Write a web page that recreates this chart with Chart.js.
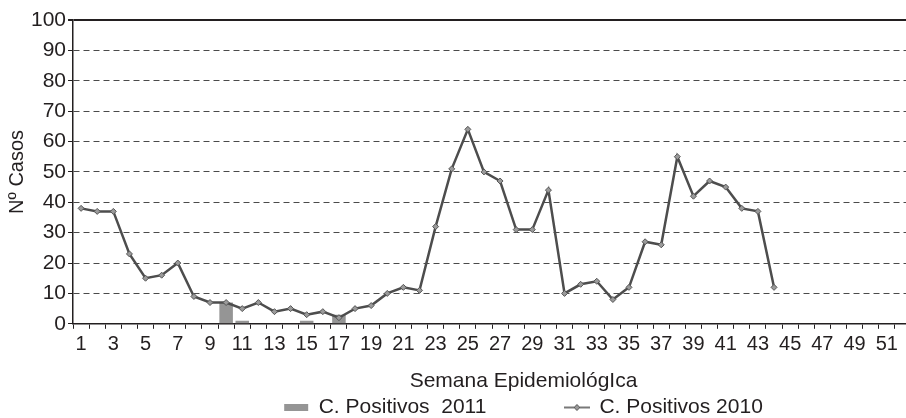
<!DOCTYPE html>
<html>
<head>
<meta charset="utf-8">
<script src="https://cdn.jsdelivr.net/npm/chart.js@4/dist/chart.umd.min.js"></script>
<style>
  html, body { margin: 0; padding: 0; background: #fff; overflow: hidden; }
  #wrap { width: 1044px; height: 418px; }
</style>
</head>
<body>
<div id="wrap"><canvas id="chart" width="1044" height="418"></canvas></div>
<script>
const WEEKS = [1, 2, 3, 4, 5, 6, 7, 8, 9, 10, 11, 12, 13, 14, 15, 16, 17, 18, 19, 20,
  21, 22, 23, 24, 25, 26, 27, 28, 29, 30, 31, 32, 33, 34, 35, 36, 37, 38, 39, 40,
  41, 42, 43, 44, 45, 46, 47, 48, 49, 50, 51, 52];

const POSITIVOS_2010 = [38, 37, 37, 23, 15, 16, 20, 9, 7, 7, 5, 7, 4, 5, 3, 4, 2, 5, 6, 10,
  12, 11, 32, 51, 64, 50, 47, 31, 31, 44, 10, 13, 14, 8, 12, 27, 26, 55, 42, 47,
  45, 38, 37, 12, null, null, null, null, null, null, null, null];

const POSITIVOS_2011 = [null, null, null, null, null, null, null, null, null, 7, 1, null, null, null, 1, null, 3, null, null, null,
  null, null, null, null, null, null, null, null, null, null, null, null, null, null, null, null, null, null, null, null,
  null, null, null, null, null, null, null, null, null, null, null, null];

const Y_TICKS = [0, 10, 20, 30, 40, 50, 60, 70, 80, 90, 100];

const TEXT = "#231f20";
const FONT = "'Liberation Sans', Arial, sans-serif";

// little line + diamond icon for the 2010 legend entry
const lineIcon = (() => {
  const c = document.createElement("canvas");
  c.width = 26;
  c.height = 10;
  const g = c.getContext("2d");
  g.strokeStyle = "#4d4d4d";
  g.lineWidth = 1.5;
  g.beginPath();
  g.moveTo(0, 5);
  g.lineTo(26, 5);
  g.stroke();
  g.fillStyle = "#9a9a9a";
  g.strokeStyle = "#555";
  g.lineWidth = 1;
  g.beginPath();
  g.moveTo(13, 2);
  g.lineTo(16, 5);
  g.lineTo(13, 8);
  g.lineTo(10, 5);
  g.closePath();
  g.fill();
  g.stroke();
  return c;
})();

new Chart(document.getElementById("chart"), {
  type: "bar",
  data: {
    labels: WEEKS,
    datasets: [
      {
        label: "C. Positivos  2011",
        data: POSITIVOS_2011,
        backgroundColor: "#959595",
        borderWidth: 0,
        categoryPercentage: 1,
        barPercentage: 0.84,
        order: 2
      },
      {
        type: "line",
        label: "C. Positivos 2010",
        data: POSITIVOS_2010,
        borderColor: "#4d4d4d",
        borderWidth: 2.5,
        backgroundColor: "#9a9a9a",
        pointStyle: "rectRot",
        pointRadius: 3,
        pointBorderColor: "#555",
        pointBorderWidth: 1,
        pointBackgroundColor: "#9a9a9a",
        tension: 0,
        spanGaps: false,
        order: 1
      }
    ]
  },
  options: {
    responsive: false,
    animation: false,
    layout: { padding: { left: 3, right: 0, top: 20, bottom: -10 } },
    plugins: {
      tooltip: { enabled: false },
      title: {
        display: true,
        position: "bottom",
        text: "Semana EpidemiológIca",
        color: TEXT,
        font: { family: FONT, size: 21, weight: "normal" },
        padding: { top: 8, bottom: -19 },
        weight: 500
      },
      legend: {
        position: "bottom",
        labels: {
          color: TEXT,
          font: { family: FONT, size: 21 },
          usePointStyle: true,
          pointStyleWidth: 24,
          boxHeight: 7,
          padding: 22,
          generateLabels: (chart) => {
            const base = Chart.defaults.plugins.legend.labels.generateLabels(chart);
            const bar = base.find((it) => it.datasetIndex === 0);
            const line = base.find((it) => it.datasetIndex === 1);
            bar.pointStyle = "rect";
            bar.fillStyle = "#959595";
            bar.strokeStyle = "#959595";
            bar.lineWidth = 0;
            line.pointStyle = lineIcon;
            // empty entry only to open the gap between the two items
            const spacer = {
              text: "",
              fillStyle: "rgba(0,0,0,0)",
              strokeStyle: "rgba(0,0,0,0)",
              lineWidth: 0,
              pointStyle: "rect",
              hidden: false,
              datasetIndex: -1
            };
            return [bar, spacer, line];
          }
        }
      }
    },
    scales: {
      x: {
        offset: true,
        grid: {
          offset: true,
          drawOnChartArea: false,
          drawTicks: true,
          tickLength: 5,
          tickColor: TEXT,
          tickWidth: 1
        },
        border: { color: TEXT, width: 1.5 },
        ticks: {
          autoSkip: false,
          maxRotation: 0,
          padding: 4,
          color: TEXT,
          font: { family: FONT, size: 20 },
          callback: (v, i) => (WEEKS[i] % 2 === 1 ? String(WEEKS[i]) : "")
        }
      },
      y: {
        min: 0,
        max: 100,
        afterBuildTicks: (axis) => {
          axis.ticks = Y_TICKS.map((v) => ({ value: v }));
        },
        grid: {
          color: (ctx) => (ctx.tick && ctx.tick.value === 100 ? TEXT : "#4a4a4a"),
          lineWidth: (ctx) => (ctx.tick && ctx.tick.value === 100 ? 2 : 1),
          tickLength: 5,
          tickColor: TEXT,
          tickBorderDash: []
        },
        border: {
          color: TEXT,
          width: 1.5,
          dash: (ctx) => (ctx.tick && ctx.tick.value === 100 ? [] : [6, 4])
        },
        ticks: {
          padding: 2,
          color: TEXT,
          font: { family: FONT, size: 21 }
        },
        title: {
          display: true,
          text: "Nº Casos",
          color: TEXT,
          font: { family: FONT, size: 20 },
          padding: { top: 2, bottom: 0 }
        }
      },
      // empty right-hand box: keeps the plot to the picture width
      // while the title and legend centre on the whole canvas
      side: {
        position: "right",
        display: true,
        grid: { display: false },
        border: { display: false },
        ticks: { display: false },
        afterFit: (axis) => {
          axis.width = 133;
        }
      }
    }
  }
});
</script>
</body>
</html>
